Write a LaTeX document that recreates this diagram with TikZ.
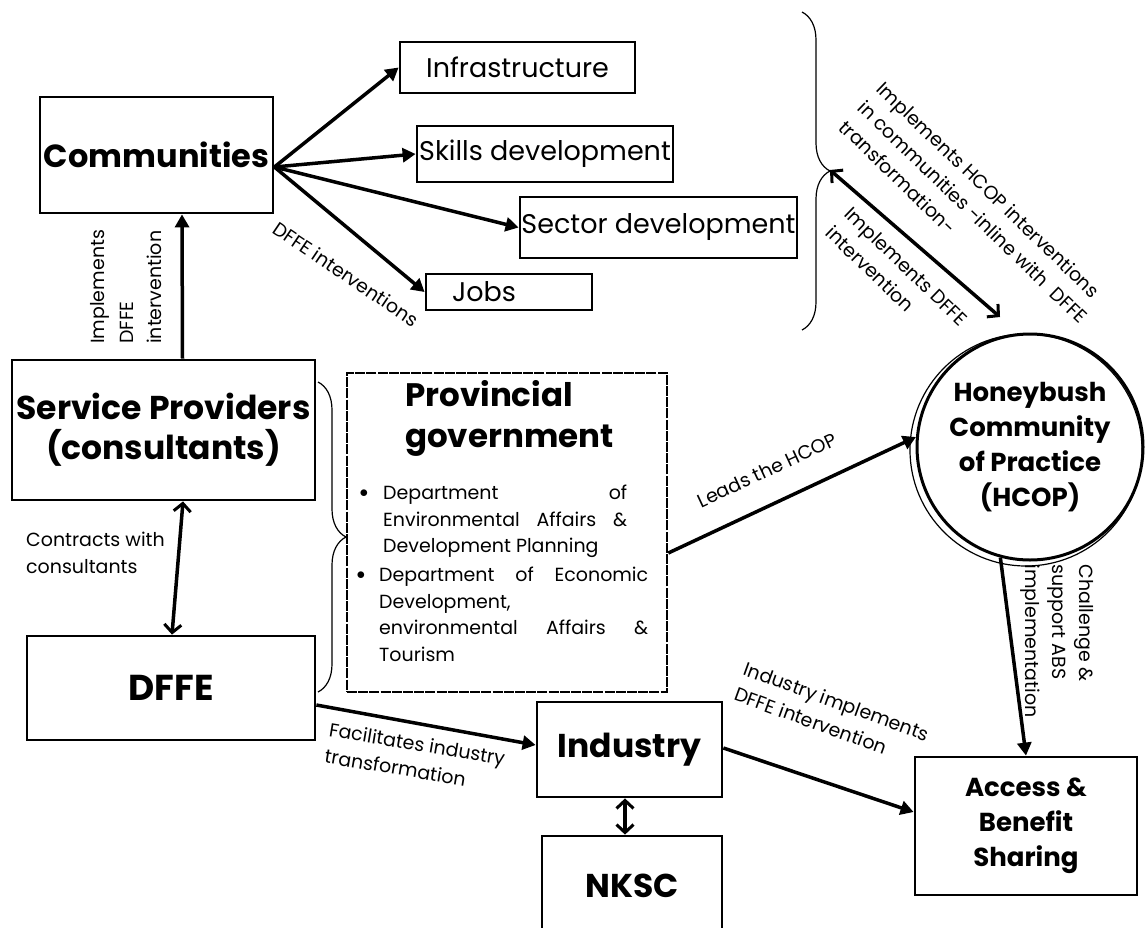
\documentclass[tikz,border=0pt]{standalone}
\usepackage{fontspec}
\setmainfont{Poppins}
\usetikzlibrary{arrows.meta,decorations.pathreplacing,calc}
\hyphenpenalty=10000
\exhyphenpenalty=10000
\begin{document}
\begin{tikzpicture}[x=1pt,y=-1pt,
  box/.style={draw, line width=2.8pt, inner sep=0pt},
  arr/.style={line width=3.5pt, -{Triangle[length=13pt,width=14pt]}},
  darr/.style={line width=3.5pt, {Straight Barb[length=8pt,width=17pt,line width=3pt]}-{Straight Barb[length=8pt,width=17pt,line width=3pt]}},
  bigb/.style={font=\fontsize{33}{40}\selectfont\bfseries},
  midb/.style={font=\fontsize{26}{35}\selectfont\bfseries},
  med/.style={font=\fontsize{27}{30}\selectfont},
  lbl/.style={font=\fontsize{19}{27}\selectfont, inner sep=0pt},
  brc/.style={line width=1.2pt, decorate, decoration={brace, amplitude=28pt}}
]
\useasboundingbox (0,0) rectangle (1148,927);

% boxes
\node[box, minimum width=233pt, minimum height=116pt, font=\fontsize{32}{40}\selectfont\bfseries] (comm) at (156.5,155) {Communities};
\node[box, minimum width=235pt, minimum height=51pt, med] (infra) at (517.5,67.5) {Infrastructure};
\node[box, minimum width=256pt, minimum height=56pt, med] (skills) at (545,154) {Skills development};
\node[box, minimum width=277pt, minimum height=61pt, med] (sector) at (658.5,227.5) {Sector development};
\node[box, minimum height=36pt, med, text width=114pt, inner xsep=26pt, align=left] (jobs) at (509,292) {Jobs};
\node[box, minimum width=303pt, minimum height=140pt, bigb, align=center] (sp) at (163.5,430) {Service Providers\\(consultants)};
\node[box, minimum width=288pt, minimum height=104pt, font=\fontsize{36}{40}\selectfont\bfseries] (dffe) at (171,688) {DFFE};
\node[box, minimum width=185pt, minimum height=95pt, bigb] (ind) at (629.5,749.5) {Industry};
\node[box, minimum width=180pt, minimum height=100pt, bigb] (nksc) at (632,886) {NKSC};
\node[box, minimum width=222pt, minimum height=138pt, midb, align=center] (acc) at (1026,826) {Access \&\\Benefit\\Sharing};

% provincial government
\node[draw, line width=2.6pt, dash pattern=on 10pt off 1.2pt, minimum width=320pt, minimum height=319pt, inner sep=0pt] (prov) at (507,532.5) {};
\node[anchor=north west, inner sep=0pt, align=left, font=\fontsize{32.5}{41}\selectfont\bfseries] (provt) at (405,380) {Provincial\\government};
\node[lbl, anchor=center] (b1) at (364,494) {$\bullet$};
\node[lbl, anchor=north west, text width=244pt, align=justify, font=\fontsize{19}{26.5}\selectfont] (it1) at (383,485)
  {Department of\linebreak Environmental Affairs \&\linebreak Development Planning};
\node[lbl, anchor=center] (b2) at (361,576) {$\bullet$};
\node[lbl, anchor=north west, text width=269pt, align=justify, font=\fontsize{19}{26.5}\selectfont] (it2) at (379,567)
  {Department of Economic\linebreak Development,\newline environmental Affairs \&\linebreak Tourism};

% HCOP
\node[circle, draw, line width=3pt, minimum size=226pt, inner sep=0pt, midb, align=center] (hcop) at (1030,447)
  {Honeybush\\Community\\of Practice\\(HCOP)};
\draw[line width=1.2pt] (1026,450) circle (116);

% braces
\draw[brc] (318,382) -- (318,692);
\draw[brc] (802,12) -- (802,330);
\coordinate (bt) at (830,170);

% arrows
\coordinate (cs) at ($(comm.east)+(0,12)$);
\draw[arr] (cs) -- (infra.west);
\draw[arr] (cs) -- (skills.west);
\draw[arr] (cs) -- (sector.west);
\draw[arr] (cs) -- (jobs.west);
\draw[arr] ($(sp.north)+(19,0)$) -- ($(comm.south)+(25.5,0)$);
\draw[darr] ($(sp.south)+(19.5,0)$) -- ($(dffe.north)+(1,0)$);
\draw[arr] ($(dffe.east)+(0,17)$) -- ($(ind.west)+(0,-4.5)$);
\draw[darr] ($(ind.south)+(-4.5,0)$) -- ($(nksc.north)+(-7,0)$);
\draw[arr] ($(ind.east)+(0,-1.5)$) -- ($(acc.west)+(0,-14)$);
\draw[arr] ($(prov.east)+(0,20.5)$) -- (hcop.175);
\draw[arr] (hcop.255) -- (acc.north);
\draw[darr] (bt) -- (1000,317);

% labels
\node[lbl, rotate=-34] (l1) at (346,274) {DFFE interventions};
\node[lbl, rotate=90, anchor=west] (l2a) at (100,344) {Implements};
\node[lbl, rotate=90, anchor=west] (l2b) at (127,344) {DFFE};
\node[lbl, rotate=90, anchor=west] (l2c) at (154,344) {intervention};
\node[lbl, anchor=west, align=left] (l3) at (26,553) {Contracts with\\consultants};
\node[lbl, rotate=-9.5, align=left] (l4) at (415,757) {Facilitates industry\\transformation};
\node[lbl, rotate=25] (l5) at (767,470) {Leads the HCOP};
\node[lbl, rotate=-20, align=left] (l6) at (832,714) {Industry implements\\DFFE intervention};
\node[lbl, rotate=-90, align=left] (l7) at (1057,641) {Challenge \&\\support ABS\\implementation};
\node[lbl, rotate=-44, align=left] (l8) at (973,212) {Implements HCOP interventions\\in communities -inline with~~DFFE\\transformation-};
\node[lbl, rotate=-44, align=left] (l9) at (897,276) {Implements DFFE\\intervention};
\end{tikzpicture}
\end{document}
